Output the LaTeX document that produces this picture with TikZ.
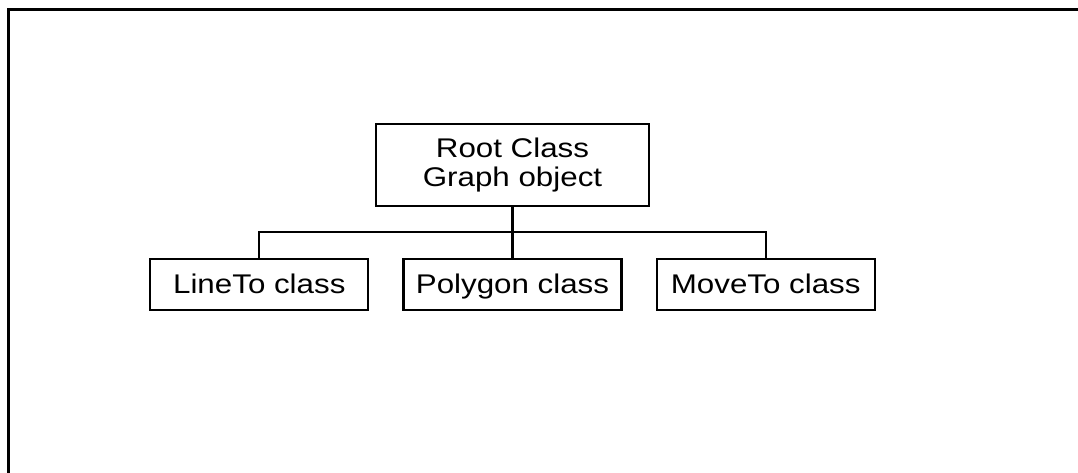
\documentclass[tikz,border=0pt]{standalone}
\usepackage{fontspec}
\setmainfont{Liberation Sans}[FakeStretch=1.16]
\usetikzlibrary{positioning}
\tikzset{
  % boxes of the class tree
  classbox/.style = {draw=black, line width=2.2pt, align=center,
                     font=\fontsize{27}{28.5}\selectfont, inner sep=0pt},
  rootbox/.style  = {classbox, minimum width=273pt, minimum height=82pt},
  leafbox/.style  = {classbox, minimum width=218pt, minimum height=51pt,
                     text height=19.5pt, text depth=2pt},
  % connectors and frame
  treeline/.style = {line width=2.2pt, black},
  frameline/.style= {line width=3pt, black},
}
\begin{document}
\begin{tikzpicture}[x=1pt,y=1pt]
  \useasboundingbox (0,0) rectangle (1078,473);
  % frame (top and left edges)
  \draw[frameline] (8.5,0) |- (1078,463.5);
  % root of the tree
  \node[rootbox] (root) at (512.5,308) {Root Class\\Graph object};
  % derived classes
  \node[leafbox, below=51pt of root] (poly) {Polygon class};
  \node[leafbox, left=33pt of poly] (lineto) {LineTo class};
  \node[leafbox, right=33pt of poly] (moveto) {MoveTo class};
  % connectors
  \coordinate (bus) at ([yshift=-25pt]root.south);
  \draw[treeline] (root.south) -- (poly.north);
  \draw[treeline] (lineto.north) |- (bus) -| (moveto.north);
\end{tikzpicture}
\end{document}
